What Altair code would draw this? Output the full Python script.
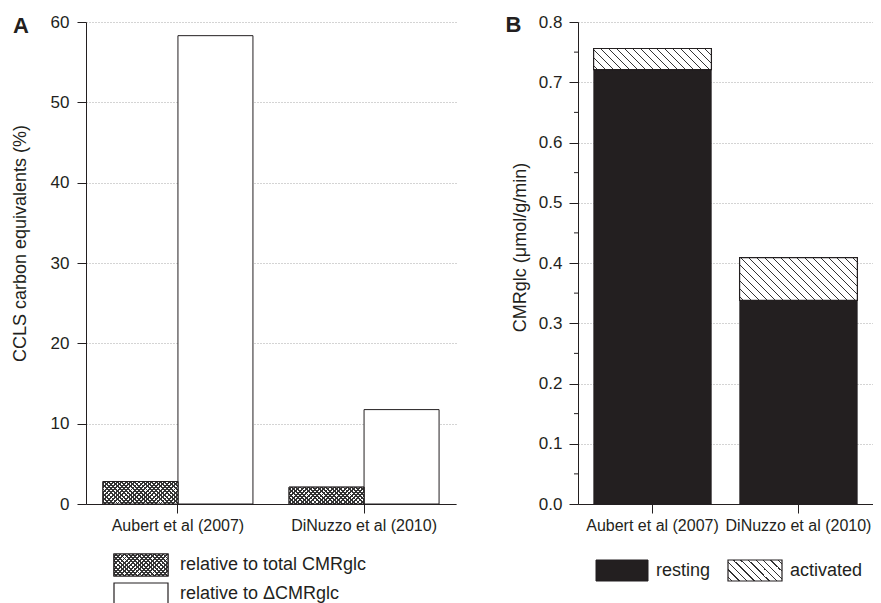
import altair as alt
import pandas as pd

# ---------------- data ----------------
studies = ["Aubert et al (2007)", "DiNuzzo et al (2010)"]
ccls_vs_total = [2.8, 2.1]          # % relative to total CMRglc
ccls_vs_delta = [58.3, 11.75]       # % relative to ΔCMRglc
cmr_resting = [0.721, 0.338]        # µmol/g/min
cmr_total = [0.756, 0.409]          # resting + activated

a_ticks = [0, 10, 20, 30, 40, 50, 60]
b_ticks = [0.0, 0.1, 0.2, 0.3, 0.4, 0.5, 0.6, 0.7, 0.8]
b_minor = [0.05, 0.15, 0.25, 0.35, 0.45, 0.55, 0.65, 0.75]

legend_a = ["relative to total CMRglc", "relative to \u0394CMRglc"]
legend_b = ["resting", "activated"]
measures_a = ["total", "delta"]

# ---------------- style / layout ----------------
FONT = "Liberation Sans"
INK = "#231f20"
HATCH = "#333333"
GRID = "#a8a8a8"
CLEAR = "rgba(255,255,255,0)"
H = 482
WA = 370
WB = 295
A_PI, A_PO = 0.194, 0.091
B_PI, B_PO = 0.193, 0.107
A_MAX, B_MAX = 60, 0.8

a_step = WA / (len(studies) - A_PI + 2 * A_PO)
a_sub = a_step * (1 - A_PI) / 2
b_step = WB / (len(studies) - B_PI + 2 * B_PO)
b_band = b_step * (1 - B_PI)


def hatch(W, Hh, period, lw, direction, color, bg):
    """Linear-gradient stripes at 45 degrees for a W x Hh pixel box."""
    L = W + Hh
    s = L / (W * W + Hh * Hh)
    if direction == "\\":
        x1, y1, x2, y2 = 0, 1, s * W, 1 - s * Hh
    else:
        x1, y1, x2, y2 = 0, 0, s * W, s * Hh
    dt = period / L
    hw = lw / 2 / L
    stops = [alt.GradientStop(offset=0, color=bg)]
    k = 0
    while True:
        c = (k + 0.5) * dt
        a, b = c - hw, c + hw
        if a >= 1:
            break
        a, b = max(a, 0.0), min(b, 1.0)
        stops += [
            alt.GradientStop(offset=a, color=bg),
            alt.GradientStop(offset=a, color=color),
            alt.GradientStop(offset=b, color=color),
            alt.GradientStop(offset=b, color=bg),
        ]
        k += 1
    stops.append(alt.GradientStop(offset=1, color=bg))
    return alt.LinearGradient(gradient="linear", stops=stops, x1=x1, y1=y1, x2=x2, y2=y2)


def cross_layers(chart_fn, W, Hh):
    return [
        chart_fn(hatch(W, Hh, 4.3, 1.9, "\\", HATCH, "white"), 0),
        chart_fn(hatch(W, Hh, 4.3, 1.9, "/", HATCH, CLEAR), 1),
    ]


axis_common = dict(
    labelFont=FONT, titleFont=FONT, labelColor=INK, titleColor=INK,
    domainColor=INK, tickColor=INK, domainWidth=1, tickWidth=1,
    titleFontWeight="normal",
)

# ---------------- panel A ----------------
dfA = pd.DataFrame({
    "study": studies * 2,
    "measure": [measures_a[0]] * len(studies) + [measures_a[1]] * len(studies),
    "value": ccls_vs_total + ccls_vs_delta,
})

xA = alt.X("study:N", title=None,
           scale=alt.Scale(domain=studies, paddingInner=A_PI, paddingOuter=A_PO),
           axis=alt.Axis(labelAngle=0, labelFontSize=16, tickSize=9, labelPadding=4,
                         grid=False, **axis_common))
xoA = alt.XOffset("measure:N", scale=alt.Scale(domain=measures_a, paddingInner=0, paddingOuter=0))
yA = alt.Y("value:Q", scale=alt.Scale(domain=[0, A_MAX], nice=False),
           axis=alt.Axis(values=a_ticks, title="CCLS carbon equivalents (%)",
                         titleFontSize=18, labelFontSize=17, tickSize=9, labelPadding=8,
                         grid=True, gridColor=GRID, gridDash=[1, 2], gridWidth=1,
                         titleX=-66, titleY=221, titleAngle=-90, titleBaseline="middle",
                         titleAlign="center", **axis_common))

baseA = alt.Chart(dfA).encode(x=xA, xOffset=xoA, y=yA)
layersA = [
    baseA.transform_filter(alt.datum.measure == "delta").mark_bar(fill="white", stroke=INK, strokeWidth=1),
    baseA.transform_filter(alt.datum.measure == "total").mark_bar(fill="white", stroke=INK, strokeWidth=1),
]
for s_name, v in zip(studies, ccls_vs_total):
    hpx = v / A_MAX * H

    def mk(grad, i, s_name=s_name):
        return baseA.transform_filter(
            (alt.datum.measure == "total") & (alt.datum.study == s_name)
        ).mark_bar(fill=grad, stroke=INK if i == 1 else None, strokeWidth=1)
    layersA += cross_layers(mk, a_sub, hpx)

# panel letter
layersA.append(
    alt.Chart(pd.DataFrame({"t": ["A"]})).mark_text(
        font=FONT, fontSize=22, fontWeight="bold", color=INK, align="center", baseline="middle"
    ).encode(text="t:N", x=alt.value(-65), y=alt.value(4))
)

# legend A (drawn below the plot)
LA_X0, LA_W, LA_H = 28, 54, 22
LA_ROWS = [532, 561]
for i, lab in enumerate(legend_a):
    one = alt.Chart(pd.DataFrame({"label": [lab]}))
    enc = dict(x=alt.value(LA_X0), x2=alt.value(LA_X0 + LA_W),
               y=alt.value(LA_ROWS[i]), y2=alt.value(LA_ROWS[i] + LA_H))
    layersA.append(one.mark_rect(fill="white", stroke=INK, strokeWidth=1.2).encode(**enc))
    if i == 0:
        layersA.append(one.mark_rect(fill=hatch(LA_W, LA_H, 4.3, 1.9, "\\", HATCH, "white")).encode(**enc))
        layersA.append(one.mark_rect(fill=hatch(LA_W, LA_H, 4.3, 1.9, "/", HATCH, CLEAR),
                                     stroke=INK, strokeWidth=1.2).encode(**enc))
    layersA.append(one.mark_text(font=FONT, fontSize=18, color=INK, align="left", baseline="middle").encode(
        text="label:N", x=alt.value(LA_X0 + LA_W + 12), y=alt.value(LA_ROWS[i] + LA_H / 2)))

panelA = alt.layer(*layersA).properties(width=WA, height=H)

# ---------------- panel B ----------------
dfB = pd.DataFrame({"study": studies, "resting": cmr_resting, "total": cmr_total})

xB = alt.X("study:N", title=None,
           scale=alt.Scale(domain=studies, paddingInner=B_PI, paddingOuter=B_PO),
           axis=alt.Axis(labelAngle=0, labelFontSize=16, tickSize=9, labelPadding=4,
                         grid=False, **axis_common))
yB = alt.Y("resting:Q", scale=alt.Scale(domain=[0, B_MAX], nice=False),
           axis=alt.Axis(values=b_ticks, format=".1f", title="CMRglc (\u03bcmol/g/min)",
                         titleFontSize=18, labelFontSize=17, tickSize=9, labelPadding=7,
                         grid=True, gridColor=GRID, gridDash=[1, 2], gridWidth=1,
                         titleX=-57.5, titleY=225, titleAngle=-90, titleBaseline="middle",
                         titleAlign="center", **axis_common))

baseB = alt.Chart(dfB).encode(x=xB)
layersB = [
    baseB.mark_bar(fill=INK, stroke=INK, strokeWidth=0.5).encode(y=yB),
]
for s_name, r, t in zip(studies, cmr_resting, cmr_total):
    hpx = (t - r) / B_MAX * H
    layersB.append(
        baseB.transform_filter(alt.datum.study == s_name).mark_bar(
            fill=hatch(b_band, hpx, 8.0, 1.5, "\\", HATCH, "white"), stroke=INK, strokeWidth=1.2
        ).encode(y=yB, y2="total:Q")
    )

# minor ticks on the y axis of panel B
layersB.append(
    alt.Chart(pd.DataFrame({"resting": b_minor})).mark_rule(color=INK, strokeWidth=1).encode(
        y=yB, x=alt.value(-4), x2=alt.value(0))
)
layersB.append(
    alt.Chart(pd.DataFrame({"t": ["B"]})).mark_text(
        font=FONT, fontSize=22, fontWeight="bold", color=INK, align="center", baseline="middle"
    ).encode(text="t:N", x=alt.value(-64.5), y=alt.value(3))
)

# legend B
LB_Y0, LB_H = 538, 21
LB_X = [18, 150]
LB_W = [52, 54]
for i, lab in enumerate(legend_b):
    one = alt.Chart(pd.DataFrame({"label": [lab]}))
    enc = dict(x=alt.value(LB_X[i]), x2=alt.value(LB_X[i] + LB_W[i]),
               y=alt.value(LB_Y0), y2=alt.value(LB_Y0 + LB_H))
    if i == 0:
        layersB.append(one.mark_rect(fill=INK, stroke=INK, strokeWidth=1).encode(**enc))
    else:
        layersB.append(one.mark_rect(fill=hatch(LB_W[i], LB_H, 7.5, 1.5, "\\", HATCH, "white"),
                                     stroke=INK, strokeWidth=1.2).encode(**enc))
    layersB.append(one.mark_text(font=FONT, fontSize=18, color=INK, align="left", baseline="middle").encode(
        text="label:N", x=alt.value(LB_X[i] + LB_W[i] + 8), y=alt.value(LB_Y0 + LB_H / 2)))

panelB = alt.layer(*layersB).properties(width=WB, height=H)

chart = alt.hconcat(panelA, panelB, spacing=49).properties(
    padding={"left": 3, "top": 5, "right": 0, "bottom": 0},
    background="white",
).configure_view(stroke=None)

chart.save("out.html", embed_options={"renderer": "svg", "actions": False})
